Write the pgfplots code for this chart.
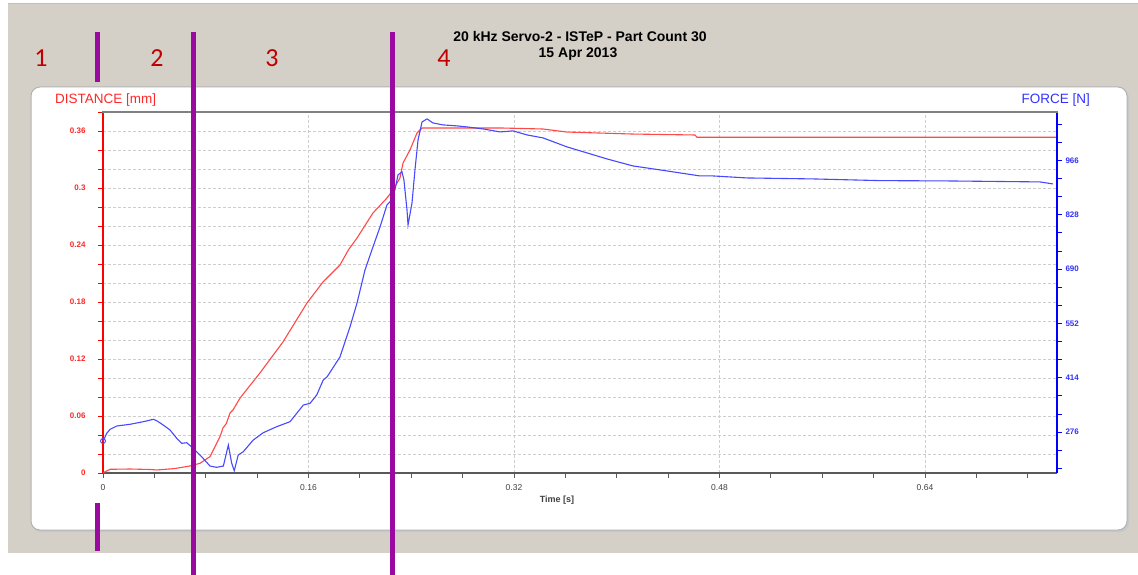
\documentclass[border=0pt]{standalone}
\usepackage{pgfplots}
\pgfplotsset{compat=1.18}
\usepackage{pgfplotstable}
\usepackage{fontspec}
\setmainfont{Liberation Sans}
\newfontfamily\calfont{Carlito}

\definecolor{bggray}{RGB}{212,208,200}
\definecolor{distred}{RGB}{255,72,72}
\definecolor{labred}{RGB}{255,40,40}
\definecolor{forceblue}{RGB}{72,72,255}
\definecolor{labblue}{RGB}{50,50,255}
\definecolor{markpurple}{RGB}{155,10,160}
\definecolor{numred}{RGB}{192,0,0}
\definecolor{gridgray}{RGB}{205,205,205}

% distance [mm] vs time [s]
\pgfplotstableread{
t d
0      0.0003
0.0055 0.0039
0.0210 0.0042
0.0366 0.0037
0.0420 0.0032
0.0560 0.0047
0.0677 0.0074
0.0755 0.0102
0.0833 0.0172
0.0911 0.0382
0.0934 0.0474
0.0960 0.0520
0.0989 0.0632
0.1012 0.0663
0.1067 0.0789
0.1222 0.1053
0.1401 0.1379
0.1588 0.1789
0.1713 0.2011
0.1845 0.2189
0.1910 0.2347
0.1978 0.2474
0.2102 0.2737
0.2211 0.2895
0.2258 0.2979
0.2312 0.3105
0.2336 0.3263
0.2390 0.3400
0.2445 0.3579
0.2484 0.3632
0.3091 0.3632
0.3426 0.3621
0.3613 0.3589
0.4126 0.3568
0.4609 0.3558
0.4625 0.3534
0.7428 0.3534
}\distance

% force [N] vs time [s]
\pgfplotstableread{
t f
0.0002 253.3
0.0029 272.8
0.0055 282.9
0.0107 291.4
0.0210 295.7
0.0314 302.3
0.0392 308.4
0.0418 304.8
0.0469 293.9
0.0522 281.2
0.0574 260.1
0.0613 247.4
0.0652 248.9
0.0703 234.7
0.0768 213.4
0.0833 189.7
0.0885 186.4
0.0937 189.7
0.0976 243.1
0.1002 196.6
0.1022 177.8
0.1053 217.7
0.1092 226.1
0.1170 255.8
0.1248 274.4
0.1352 289.6
0.1456 302.3
0.1560 344.7
0.1612 349.0
0.1664 370.1
0.1715 408.3
0.1744 415.9
0.1845 466.7
0.1923 542.9
0.1978 604.0
0.2040 687.8
0.2102 746.3
0.2157 797.0
0.2211 852.9
0.2235 860.6
0.2273 891.0
0.2297 929.2
0.2328 936.8
0.2343 916.5
0.2367 840.2
0.2375 802.1
0.2406 858.1
0.2429 941.9
0.2453 1018.1
0.2484 1063.8
0.2523 1071.4
0.2569 1061.3
0.2647 1056.2
0.2756 1053.7
0.2834 1051.1
0.2959 1046.0
0.3091 1038.4
0.3192 1041.0
0.3301 1030.8
0.3426 1023.2
0.3613 1000.3
0.3768 985.1
0.3924 969.8
0.4126 952.0
0.4391 939.3
0.4648 926.6
0.4749 926.6
0.5014 921.5
0.5528 919.0
0.6050 914.7
0.6571 913.9
0.7295 911.4
0.7396 906.3
}\force

\begin{document}
\begin{tikzpicture}
\useasboundingbox (0pt,0pt) rectangle (1138pt,-575pt);

% window background and panel
\begin{scope}[x=1pt,y=-1pt]
\fill[white] (0,0) rectangle (1138,575);
\fill[bggray] (8,3) rectangle (1138,553);
\draw[black!25, line width=1.5pt] (8,3.5) -- (1138,3.5);
\fill[black!22, rounded corners=9pt] (32,89) rectangle (1129,532);
\filldraw[fill=white, draw=black!30, line width=1pt, rounded corners=9pt] (31,87) rectangle (1127,530);
\end{scope}

% distance axis (left)
\begin{axis}[
  at={(103pt,-473pt)}, anchor=south west,
  scale only axis, width=954pt, height=361pt,
  xmin=0, xmax=0.7428, ymin=0, ymax=0.38,
  axis x line*=bottom, axis y line*=left,
  axis line style={-},
  x axis line style={draw=black!65, line width=2pt},
  y axis line style={draw=red, line width=2pt},
  xtick={0,0.16,0.32,0.48,0.64},
  xticklabels={0,0.16,0.32,0.48,0.64},
  minor xtick={0.04,0.08,0.12,0.2,0.24,0.28,0.36,0.4,0.44,0.52,0.56,0.6,0.68,0.72},
  ytick={0,0.06,0.12,0.18,0.24,0.3,0.36},
  yticklabels={0,0.06,0.12,0.18,0.24,0.3,0.36},
  minor ytick={0.02,0.04,0.08,0.1,0.14,0.16,0.2,0.22,0.26,0.28,0.32,0.34,0.38},
  tick align=outside,
  major tick length=5pt, minor tick length=5pt,
  xtick style={draw=black!65, line width=0.9pt},
  ytick style={draw=red, line width=0.9pt},
  xmajorgrids, ymajorgrids, yminorgrids,
  major grid style={draw=gridgray, dash pattern=on 3pt off 2pt, line width=0.8pt},
  minor grid style={draw=gridgray, dash pattern=on 3pt off 2pt, line width=0.8pt},
  /pgf/number format/assume math mode=true,
  xticklabel style={font=\fontsize{8.5}{10}\selectfont, text=black!75, yshift=-3pt},
  yticklabel style={font=\bfseries\fontsize{8}{9}\selectfont, text=labred, xshift=-9pt},
]
\addplot[distred, line width=1.1pt] table[x=t, y=d] {\distance};
\end{axis}

% force axis (right)
\begin{axis}[
  at={(103pt,-473pt)}, anchor=south west,
  scale only axis, width=954pt, height=361pt,
  xmin=0, xmax=0.7428, ymin=172, ymax=1089,
  axis x line=none, axis y line*=right,
  axis line style={-},
  y axis line style={draw=blue, line width=2pt},
  ytick={276,414,552,690,828,966},
  yticklabels={276,414,552,690,828,966},
  minor ytick={184,230,322,368,460,506,598,644,736,782,874,920,1012,1058},
  tick align=outside,
  major tick length=5pt, minor tick length=5pt,
  ytick style={draw=blue, line width=0.9pt},
  /pgf/number format/assume math mode=true,
  yticklabel style={font=\bfseries\fontsize{8}{9}\selectfont, text=labblue},
  clip=false,
]
\addplot[forceblue, line width=1.1pt] table[x=t, y=f] {\force};
\addplot[forceblue, only marks, mark=o, mark size=2.5pt, line width=0.9pt] coordinates {(0,253.3)};
\end{axis}

% frame top, titles, labels and phase markers
\begin{scope}[x=1pt,y=-1pt]
\draw[black!50, line width=2pt] (102,112) -- (1058,112);
\node[anchor=base, font=\bfseries\fontsize{14}{16}\selectfont] at (580,42) {20 kHz Servo-2 - ISTeP - Part Count 30};
\node[anchor=base, font=\bfseries\fontsize{14}{16}\selectfont] at (578,58) {15 Apr 2013};
\node[anchor=base west, inner sep=0pt, text=labred, font=\fontsize{13.5}{15}\selectfont] at (55,104) {DISTANCE [mm]};
\node[anchor=base east, inner sep=0pt, text=labblue, font=\fontsize{13.5}{15}\selectfont] at (1090,104) {FORCE [N]};
\node[anchor=center, font=\bfseries\fontsize{9}{10}\selectfont, text=black!75] at (557,500) {Time [s]};
\foreach \n/\xx in {1/41,2/157,3/272,4/444}
  \node[anchor=base, inner sep=0pt, text=numred, font=\calfont\fontsize{26}{28}\selectfont] at (\xx,67) {\n};
\draw[markpurple, line width=4.7pt] (97.7,32) -- (97.7,82);
\draw[markpurple, line width=4.7pt] (97.7,503) -- (97.7,551);
\draw[markpurple, line width=4.7pt] (193.3,32) -- (193.3,575);
\draw[markpurple, line width=4.7pt] (392.5,32) -- (392.5,575);
\end{scope}
\end{tikzpicture}
\end{document}
